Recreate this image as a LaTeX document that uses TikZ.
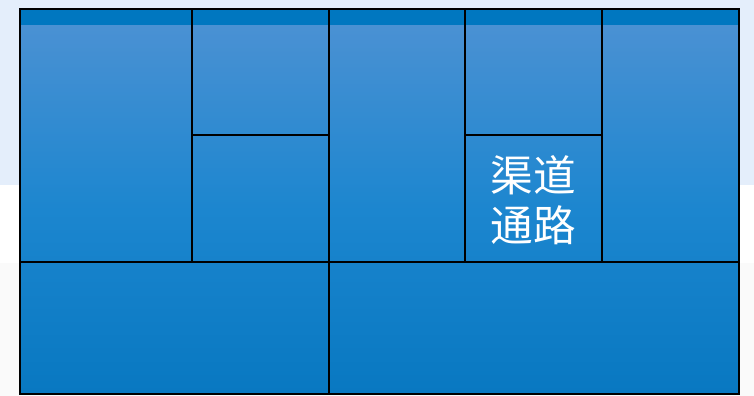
\documentclass[tikz,border=0pt]{standalone}
\usepackage{fontspec}
\newfontfamily\cjk{Noto Sans CJK SC}
\definecolor{bgblue}{HTML}{E4EEFB}
\definecolor{strip}{HTML}{0077C0}
\definecolor{topc}{HTML}{4A91D3}
\definecolor{botc}{HTML}{0878C1}
\definecolor{midc}{HTML}{1C86CF}
\tikzset{
  gridline/.style={draw=black, line width=1.9pt},
  celltext/.style={text=white, align=center, font=\cjk\fontsize{32}{37.5}\selectfont, inner sep=0pt}
}
\begin{document}
\begin{tikzpicture}[x=0.75pt,y=-0.75pt]
\useasboundingbox (0,0) rectangle (754,396);
\fill[white] (0,0) rectangle (754,396);
\fill[bgblue] (0,0) rectangle (754,185);
\fill[black!2] (0,263) rectangle (754,396);
% canvas body
\shade[top color=topc, bottom color=botc, middle color=midc] (20,25) rectangle (739,394);
\fill[strip] (20,9) rectangle (739,25);
% coordinates
\coordinate (tl) at (20,9);
\coordinate (br) at (739,394);
\coordinate (a1) at (192,9);   \coordinate (a2) at (192,262);
\coordinate (b1) at (329,9);   \coordinate (b2) at (329,394);
\coordinate (c1) at (465,9);   \coordinate (c2) at (465,262);
\coordinate (d1) at (602,9);   \coordinate (d2) at (602,262);
\coordinate (h1) at (20,262);  \coordinate (h2) at (739,262);
\coordinate (m1) at (192,135); \coordinate (m2) at (329,135);
\coordinate (n1) at (465,135); \coordinate (n2) at (602,135);
% lines
\draw[gridline] (tl) rectangle (br);
\draw[gridline] (a1) -- (a2);
\draw[gridline] (b1) -- (b2);
\draw[gridline] (c1) -- (c2);
\draw[gridline] (d1) -- (d2);
\draw[gridline] (h1) -- (h2);
\draw[gridline] (m1) -- (m2);
\draw[gridline] (n1) -- (n2);
% text
\node[celltext] (channels) at (533.5,200) {渠道\\通路};
\end{tikzpicture}
\end{document}
